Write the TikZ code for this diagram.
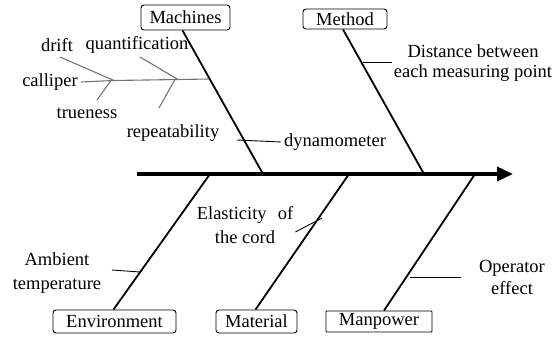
\documentclass[tikz,border=0pt]{standalone}
\usepackage{fontspec}
\setmainfont{Liberation Serif}
\usetikzlibrary{arrows.meta}
\begin{document}
\begin{tikzpicture}[x=1pt,y=-1pt,
  every node/.style={font=\fontsize{18.5}{22}\selectfont, inner sep=0pt},
  catbox/.style={draw, line width=0.9pt, rounded corners=3pt, minimum height=23pt},
  bone/.style={line width=1.8pt},
  sub/.style={line width=0.9pt},
  twig/.style={line width=1.1pt, draw=black!55},
  lbl/.style={align=center}]
\useasboundingbox (0,0) rectangle (555,338);
% spine
\coordinate (tail) at (137,174);
\coordinate (head) at (513,174);
\draw[line width=3.6pt, -{Triangle[length=16pt,width=14pt]}] (tail) -- (head);
% category boxes
\node[catbox, minimum width=89pt, minimum height=25pt] (machines) at (185.5,17.5) {Machines};
\node[catbox, minimum width=84pt, minimum height=20pt] (method) at (345,19) {Method};
\node[catbox, minimum width=123pt] (environment) at (114.5,321.5) {Environment};
\node[catbox, minimum width=81pt] (material) at (256.5,321.5) {Material};
\node[catbox, rounded corners=0.8pt, minimum width=106pt, minimum height=21pt] (manpower) at (379,321.5) {Manpower};
% bone ends on spine
\coordinate (mS) at (263,174);
\coordinate (meS) at (424,174);
\coordinate (eS) at (210,174);
\coordinate (maS) at (349,174);
\coordinate (pS) at (475,174);
\draw[bone] ([xshift=-3pt]machines.south) -- (mS);
\draw[bone] ([xshift=-2pt]method.south) -- (meS);
\draw[bone] ([xshift=-1pt]environment.north) -- (eS);
\draw[bone] ([xshift=-1pt]material.north) -- (maS);
\draw[bone] ([xshift=5pt]manpower.north) -- (pS);
% Machines sub-causes
\node (calliper) at (50,82) {calliper};
\node (drift) at (57,45) {drift};
\node (quant) at (137,45) {quantification};
\node (trueness) at (87,113) {trueness};
\node (repeat) at (173,133) {repeatability};
\node[anchor=west] (dyna) at (284,142) {dynamometer};
\coordinate (j1) at (114,80.5);
\coordinate (j2) at (178,79.5);
\coordinate (mB) at (209,79);
\coordinate (driftE) at (60,57);
\coordinate (quantE) at (140,57);
\coordinate (truE) at (97,100);
\coordinate (repE) at (159,108);
\draw[twig] ([xshift=3pt]calliper.east) -- (j1) -- (j2) -- (mB);
\draw[twig] (driftE) -- (j1);
\draw[twig] (truE) -- ([xshift=-3pt]j1);
\draw[twig] (quantE) -- (j2);
\draw[twig] (repE) -- ([xshift=-3pt]j2);
\coordinate (dynB) at (237,140);
\draw[sub] (dynB) -- ([xshift=-3pt]dyna.west);
% Method sub-cause
\node[lbl, font=\fontsize{18.5}{20}\selectfont] (dist) at (473,63) {Distance between\\each measuring point};
\coordinate (metB) at (363,62);
\draw[sub] (metB) -- (392,62) coordinate (metE);
% Material sub-cause
\node[lbl, font=\fontsize{18.5}{24}\selectfont] (elast) at (245,225) {Elasticity\hspace{0.6em}of\\the cord};
\coordinate (matB) at (322,218);
\draw[sub] ([xshift=2pt,yshift=-7pt]elast.east) -- (matB);
% Environment sub-cause
\node[lbl, font=\fontsize{18.5}{24}\selectfont] (ambient) at (57,273) {Ambient\\temperature};
\coordinate (envB) at (140,272);
\draw[sub] (112,270) -- (envB);
% Manpower sub-cause
\node[lbl, font=\fontsize{18.5}{22}\selectfont] (operator) at (512,277) {Operator\\effect};
\coordinate (manB) at (410,277);
\draw[sub] (manB) -- (461,277);
\end{tikzpicture}
\end{document}
